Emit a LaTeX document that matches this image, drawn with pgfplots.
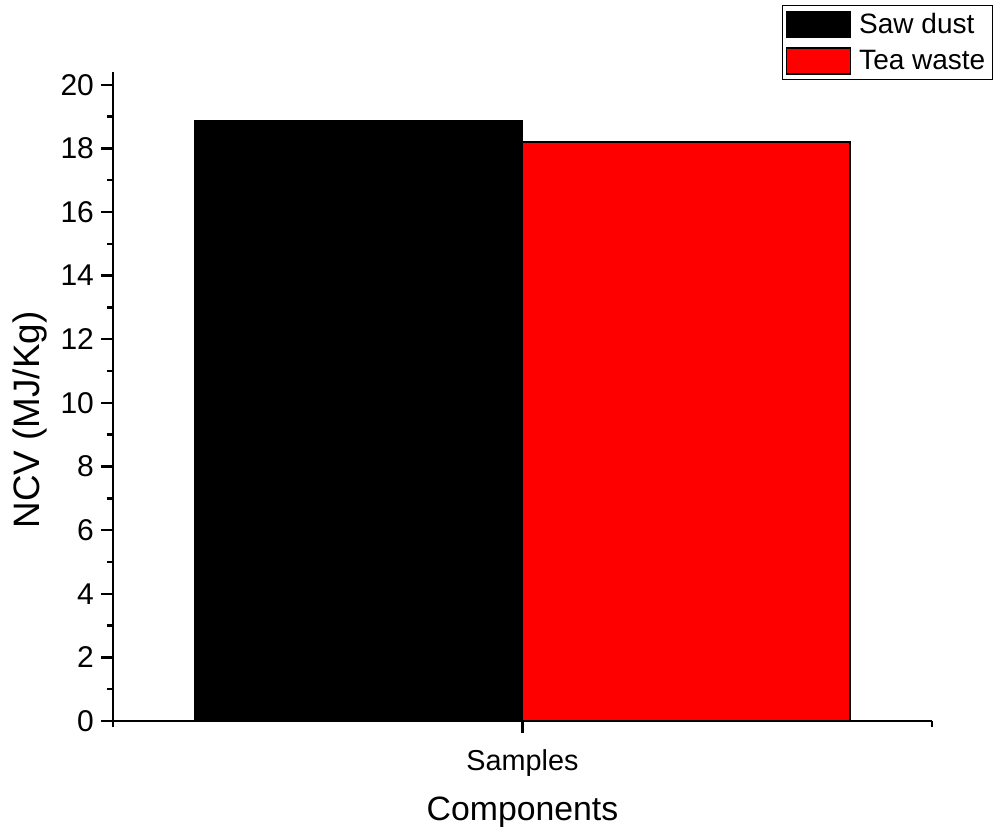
\documentclass[border=0pt]{standalone}
\usepackage{fontspec}
\setmainfont{Liberation Sans}
\usepackage{pgfplots}
\pgfplotsset{compat=1.18}

\begin{document}
\begin{tikzpicture}
\useasboundingbox (-56.5pt,-55.5pt) rectangle (440pt,360.5pt);
\begin{axis}[
  scale only axis, width=409.5pt, height=324.5pt,
  anchor=south west, at={(0,0)},
  xmin=-1, xmax=1, ymin=0, ymax=20.4,
  axis x line*=bottom, axis y line*=left,
  axis line style={line width=1.3pt},
  tick align=outside,
  major tick length=6pt, minor tick length=3pt,
  every tick/.style={black, line width=1.2pt},
  xtick={0}, xticklabels={Samples}, minor xtick={-1,1},
  ytick={0,2,...,20}, minor ytick={1,3,...,19},
  /pgf/number format/assume math mode=true,
  yticklabel style={font=\fontsize{15}{15}\selectfont},
  xticklabel style={font=\fontsize{14.4}{14.4}\selectfont, yshift=-5pt},
  ylabel={NCV (MJ/Kg)},
  xlabel={Components},
  xlabel style={font=\fontsize{16.9}{16.9}\selectfont,
    at={(axis description cs:0.5,-0.14)}, anchor=center},
  ylabel style={font=\fontsize{18.4}{18.4}\selectfont,
    at={(axis description cs:-0.1013,0.464)}, anchor=center},
  legend style={at={(1.0745,1.1032)}, anchor=north east,
    draw=black, line width=0.7pt, font=\fontsize{14}{14}\selectfont,
    inner xsep=1.5pt, inner ysep=1.5pt, row sep=3pt,
    /tikz/every odd column/.append style={column sep=2pt}},
  legend cell align=left,
  legend image code/.code={\draw[#1, line width=0.8pt] (0pt,-6.5pt) rectangle (32pt,6.5pt);},
]
\addplot[ybar, bar width=0.8, bar shift=0pt, fill=black, draw=black, line width=1pt]
  coordinates {(-0.4,18.87)};
\addplot[ybar, bar width=0.8, bar shift=0pt, fill=red, draw=black, line width=1pt]
  coordinates {(0.4,18.2)};
\legend{Saw dust, Tea waste}
\end{axis}
\end{tikzpicture}
\end{document}
